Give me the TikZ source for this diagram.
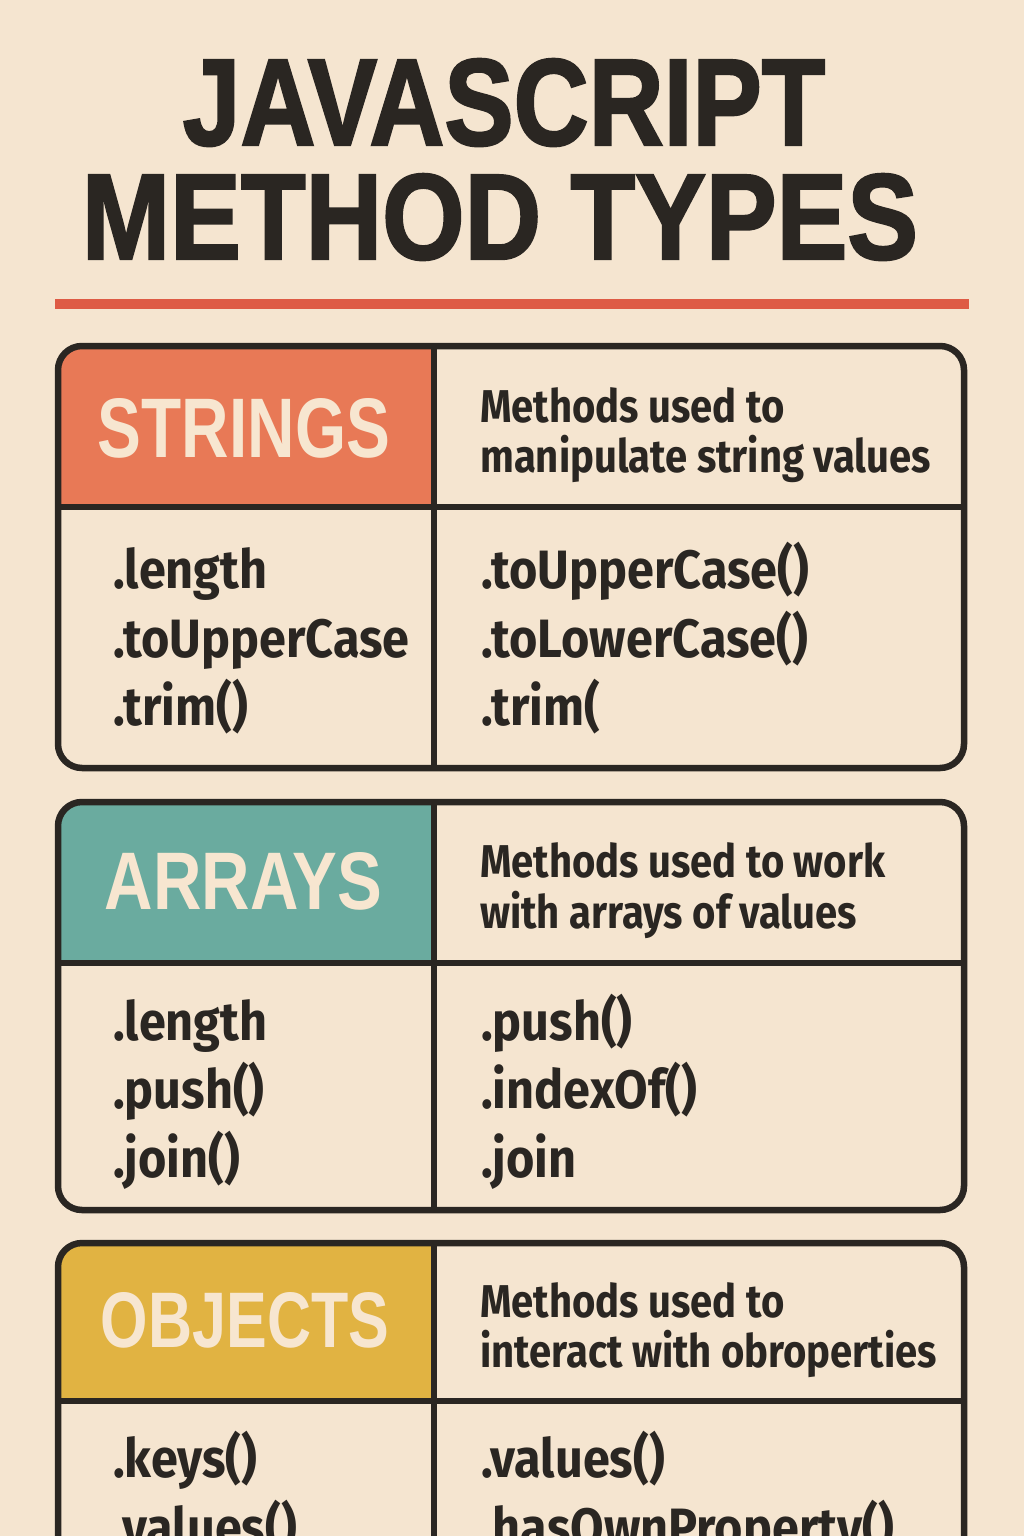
\documentclass[tikz,border=0pt]{standalone}
\usepackage{fontspec}
\setmainfont{Fira Sans}
\newfontfamily\hdfont{Liberation Sans}
\newfontfamily\ttlfont{Liberation Sans}[FakeBold=2]
\usepackage{graphicx}
\definecolor{bg}{HTML}{F5E5D0}
\definecolor{ink}{HTML}{2A2622}
\definecolor{redline}{HTML}{DE5B45}
\definecolor{corange}{HTML}{E87956}
\definecolor{cteal}{HTML}{6AAB9F}
\definecolor{cmustard}{HTML}{E1B342}
\definecolor{cream}{HTML}{F7E6D0}
\newcommand{\sqb}[1]{\scalebox{0.9}[1]{#1}}
\newcommand{\sqd}[1]{\scalebox{0.87}[1]{#1}}
\newcommand{\hdrtxt}[3]{\resizebox{#1pt}{#2pt}{\hdfont\bfseries #3}}
\newcommand{\ttltxt}[3]{\resizebox{#1pt}{#2pt}{\ttlfont\bfseries #3}}
\tikzset{
  frame/.style={draw=ink, line width=6.5pt},
  titletxt/.style={anchor=base, inner sep=0pt, text=ink},
  hdr/.style={anchor=base, inner sep=0pt, text=cream},
  desc/.style={anchor=base west, inner sep=0pt, text=ink, font=\bfseries\fontsize{46}{46}\selectfont},
  body/.style={anchor=base west, inner sep=0pt, text=ink, font=\bfseries\fontsize{54}{54}\selectfont},
}
\begin{document}
\begin{tikzpicture}[x=1pt,y=-1pt]
\useasboundingbox (0,0) rectangle (1024,1536);
\clip (0,0) rectangle (1024,1536);
\fill[bg] (0,0) rectangle (1024,1536);

% title
\node[titletxt] (t1) at (504,145) {\ttltxt{642}{86}{JAVASCRIPT}};
\node[titletxt] (t2) at (500,259) {\ttltxt{836}{85}{METHOD TYPES}};
\coordinate (rl) at (55,304);
\coordinate (rr) at (969,304);
\draw[redline, line width=10pt] (rl) -- (rr);

% ---------- table 1 : strings
\begin{scope}
\clip[rounded corners=24pt] (58,346) rectangle (964,768);
\fill[corange] (58,346) rectangle (434,507);
\end{scope}
\draw[frame, rounded corners=24pt] (58,346) rectangle (964,768);
\draw[frame] (434,346) -- (434,768);
\draw[frame] (58,507) -- (964,507);
\node[hdr] (h1) at (244,457) {\hdrtxt{292}{59}{STRINGS}};
\node[desc] (d1a) at (480,422) {\sqd{Methods used to}};
\node[desc] (d1b) at (480,472) {\sqd{manipulate string values}};
\node[body] (l1a) at (113,588) {\sqb{.length}};
\node[body] (l1b) at (113,657) {\sqb{.toUpperCase}};
\node[body] (l1c) at (113,725) {\sqb{.trim()}};
\node[body] (r1a) at (481,588) {\sqb{.toUpperCase()}};
\node[body] (r1b) at (481,657) {\sqb{.toLowerCase()}};
\node[body] (r1c) at (481,725) {\sqb{.trim(}};

% ---------- table 2 : arrays
\begin{scope}
\clip[rounded corners=24pt] (58,802) rectangle (964,1210);
\fill[cteal] (58,802) rectangle (434,963);
\end{scope}
\draw[frame, rounded corners=24pt] (58,802) rectangle (964,1210);
\draw[frame] (434,802) -- (434,1210);
\draw[frame] (58,963) -- (964,963);
\node[hdr] (h2) at (243.5,909) {\hdrtxt{277}{57}{ARRAYS}};
\node[desc] (d2a) at (480,877) {\sqd{Methods used to work}};
\node[desc] (d2b) at (480,928) {\sqd{with arrays of values}};
\node[body] (l2a) at (113,1040) {\sqb{.length}};
\node[body] (l2b) at (113,1108) {\sqb{.push()}};
\node[body] (l2c) at (113,1177) {\sqb{.join()}};
\node[body] (r2a) at (481,1040) {\sqb{.push()}};
\node[body] (r2b) at (481,1108) {\sqb{.indexOf()}};
\node[body] (r2c) at (481,1177) {\sqb{.join}};

% ---------- table 3 : objects
\begin{scope}
\clip[rounded corners=24pt] (58,1243) rectangle (964,1650);
\fill[cmustard] (58,1243) rectangle (434,1401);
\end{scope}
\draw[frame, rounded corners=24pt] (58,1243) rectangle (964,1650);
\draw[frame] (434,1243) -- (434,1650);
\draw[frame] (58,1401) -- (964,1401);
\node[hdr] (h3) at (245,1347) {\hdrtxt{288}{55}{OBJECTS}};
\node[desc] (d3a) at (480,1317) {\sqd{Methods used to}};
\node[desc] (d3b) at (480,1367) {\sqd{interact with obroperties}};
\node[body] (l3a) at (113,1477) {\sqb{.keys()}};
\node[body] (l3b) at (113,1546) {\sqb{.values()}};
\node[body] (r3a) at (481,1477) {\sqb{.values()}};
\node[body] (r3b) at (481,1546) {\sqb{.hasOwnProperty()}};
\end{tikzpicture}
\end{document}
